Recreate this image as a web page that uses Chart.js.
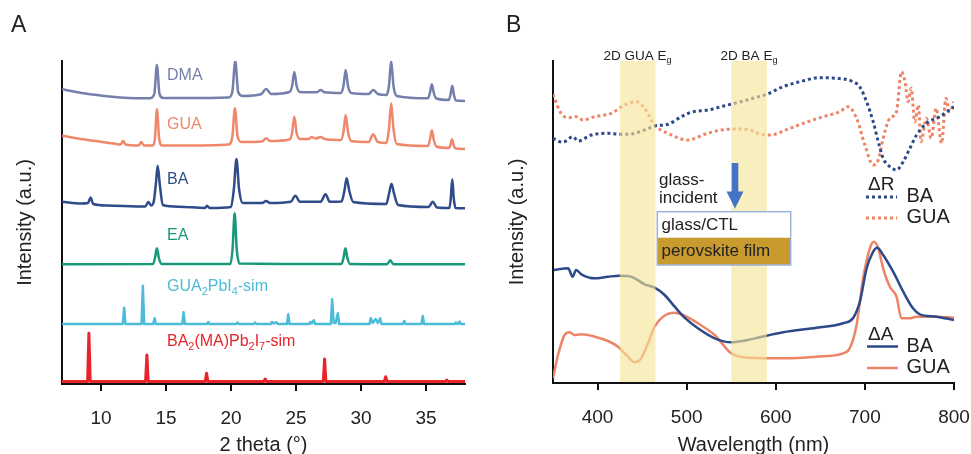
<!DOCTYPE html>
<html><head><meta charset="utf-8">
<script src="https://cdn.jsdelivr.net/npm/chart.js@4.4.1/dist/chart.umd.min.js"></script>
<style>
html,body{margin:0;padding:0;background:#fff;}
#wrap{position:relative;width:971px;height:454px;overflow:hidden;background:#fff}
canvas{position:absolute;top:0}
</style></head>
<body><div id="wrap">
<canvas id="cA" width="485" height="454" style="left:0px"></canvas>
<canvas id="cB" width="486" height="454" style="left:485px"></canvas>
</div>
<script>
const FONT = '"Liberation Sans", Arial, Helvetica, sans-serif';

// ---------- Panel A: XRD (2 theta, intensity a.u. incl. vertical offset) ----------
const xrdTicks = [10, 15, 20, 25, 30, 35];
const xrdLabels = ['DMA', 'GUA', 'BA', 'EA', 'GUA_2PbI_4-sim', 'BA_2(MA)Pb_2I_7-sim'];

const xrdDMA = [[7,294.7],[8.5,291],[10,288.5],[11.8,286.3],[13.8,285.8],[14.1,290],[14.3,319],[14.5,290],[14.8,286],[17,286],[19.8,286.5],[20.1,292],[20.33,323],[20.55,292],[20.9,288],[22.3,289.7],[22.7,295],[23.1,290],[24.5,292],[24.7,298],[24.87,312],[25.05,298],[25.3,292],[26.6,291.7],[26.9,294],[27.2,291.7],[28.45,291],[28.65,298],[28.82,314],[29.0,298],[29.25,291],[30.6,290],[30.93,294],[31.3,290],[31.95,289],[32.15,298],[32.32,323],[32.5,298],[32.75,288],[35.15,285.7],[35.3,291],[35.45,299.7],[35.6,291],[35.8,285.5],[36.75,284],[36.88,289],[37.02,298.3],[37.15,289],[37.3,283.5],[38,283]];

const xrdGUA = [[7,248.3],[9,244],[11,240.5],[11.5,239.5],[11.7,243],[11.9,239.5],[12.9,238.5],[13.1,242],[13.3,238.5],[13.95,238.5],[14.15,246],[14.3,274.7],[14.47,246],[14.7,238.5],[17,238.5],[19.8,239.5],[20.1,247],[20.3,275.7],[20.5,248],[20.8,242],[22.4,242.5],[22.7,245.7],[23.0,243],[24.5,244.5],[24.7,251],[24.87,267.3],[25.05,251],[25.3,245],[26.0,245],[26.2,247],[26.5,245.5],[26.9,247],[27.2,245],[28.45,244],[28.65,252],[28.82,269],[29.0,252],[29.25,243],[30.6,242],[30.93,249.7],[31.3,242],[31.95,241],[32.15,255],[32.32,280.7],[32.5,255],[32.75,240],[35.15,238],[35.3,244],[35.45,253.7],[35.6,244],[35.8,237.5],[36.75,236],[36.88,239],[37.0,244.7],[37.12,239],[37.3,235.5],[38,235]];

const xrdBA = [[7,182.3],[8.5,180.5],[9.0,181],[9.2,186.5],[9.4,180],[10.5,178.5],[13.4,177.5],[13.64,182],[13.85,178.5],[14.05,182],[14.22,200],[14.36,218.3],[14.52,200],[14.75,179],[16,177.3],[18.0,176],[18.15,178.3],[18.35,176],[20.0,177],[20.22,195],[20.42,225],[20.62,195],[20.9,181],[22.4,181],[22.7,183],[23.0,181],[24.6,182.3],[24.95,188.3],[25.3,182.3],[26.9,182.3],[27.27,189.7],[27.6,182.3],[28.5,182.5],[28.72,193],[28.9,205.7],[29.1,193],[29.4,182],[31.95,180],[32.15,190],[32.35,200.3],[32.55,190],[32.85,179],[35.2,177],[35.52,182.3],[35.85,176.5],[36.8,176],[36.9,185],[37.02,204.7],[37.14,185],[37.28,176],[38,175.7]];

const xrdEA = [[7,119.7],[14.0,120],[14.15,126],[14.3,135.7],[14.45,126],[14.65,120],[19.95,120],[20.12,135],[20.28,170.7],[20.44,135],[20.65,120.5],[28.5,120],[28.65,126],[28.8,135.7],[28.95,126],[29.15,120],[32.0,119.8],[32.25,123.7],[32.5,119.8],[38,119.7]];

const xrdGUA2sim = [[7,60],[11.68,60],[11.78,76.3],[11.88,60],[13.12,60],[13.22,98.3],[13.32,60],[14.02,60],[14.12,65.7],[14.22,60],[16.25,60],[16.35,71.7],[16.45,60],[18.15,60],[18.25,62],[18.35,60],[20.4,60],[20.5,61.5],[20.6,60],[21.75,60],[21.85,61.5],[21.95,60],[23.05,60],[23.15,62],[23.3,60.5],[23.5,61.8],[23.6,60],[24.3,60],[24.4,69.7],[24.5,60],[26.0,60],[26.1,62],[26.2,60.5],[26.37,63.7],[26.47,60],[27.68,60],[27.78,84.7],[27.9,61],[28.05,61],[28.22,70.7],[28.32,60],[30.65,60],[30.75,65.7],[30.9,61],[31.13,65],[31.3,61],[31.47,65.7],[31.57,60],[33.23,60],[33.33,63],[33.43,60],[34.65,60],[34.75,68],[34.85,60],[37.2,60],[37.3,61.5],[37.4,60],[37.48,60],[37.58,62.5],[37.68,60],[38,60]];

const xrdBA2sim = [[7,2.5],[8.97,2.5],[9.07,50.7],[9.17,2.5],[13.43,2.5],[13.53,29],[13.63,2.5],[18.02,2.5],[18.12,10.7],[18.22,2.5],[22.53,2.5],[22.63,5],[22.73,2.5],[27.1,2.5],[27.2,25],[27.3,2.5],[31.8,2.5],[31.9,7.3],[32.0,2.5],[36.5,2.5],[36.6,4],[36.7,2.5],[38,2.5]];

// ---------- Panel B: optical (wavelength nm, intensity a.u.) ----------
const wlTicks = [400, 500, 600, 700, 800];
const bandRanges = [[425, 465], [550, 590]];
const bandLabels = ['2D GUA E_g', '2D BA E_g'];

const dR_BA = [[350,244.7],[361,240.7],[372.4,246.3],[378,242],[393,248],[411.7,249.7],[424.8,248.7],[437.8,249],[452.8,253],[464,257],[479,258.7],[494,266.3],[505,270.7],[523.9,273],[542.6,277.3],[561,281.3],[578,285.7],[589.7,288.7],[608,296.3],[627,301.3],[649.5,305.3],[668,304.7],[685,302],[694,296.3],[701.9,281.3],[709.3,261.3],[715,241.3],[720.5,224.7],[728,216.3],[735.5,213],[743,221.3],[750.5,234.7],[758,248],[769,259.7],[784,266.3],[800,276.3]];

const dR_GUA = [[350,288.7],[359,269.7],[367,265.3],[376,266.3],[383.6,263],[396.8,266.3],[415.4,269.7],[430.4,278],[443.4,281.3],[452.8,274.7],[464,258],[479,249.7],[501.4,243],[520,248.7],[538.8,253],[557.5,254],[571,253],[580,249.7],[593.4,248],[615.8,254.7],[638.3,262],[657,267.3],[672,271.3],[681,276.3],[690.7,264.7],[700,238],[709.3,218],[715,223],[720.5,244.7],[728,264.7],[735.5,271.3],[741,311.3],[745,301.3],[748.5,281.3],[752,294.7],[756,261.3],[760,278],[763,241.3],[769,264.7],[774.4,244.7],[780,274.7],[786,239.7],[791,284.7],[795,271.3],[800,281.3]];

const dA_BA = [[351,113],[367,114.7],[372,106.3],[376,113],[381.8,108.7],[396.8,104.7],[411.7,106.3],[424.8,107.3],[437.8,106.3],[452.8,98.7],[464,95.3],[475.3,88],[486.5,76.3],[497.7,65.3],[512.6,54.7],[531.4,44.7],[550,40.7],[568.7,43],[580,45.3],[608.3,50.7],[645.8,55.3],[675.6,59.7],[687,65.3],[694.4,81.3],[702,114.7],[709.3,131.3],[713.8,135.3],[720.5,128],[731.7,111.3],[743,91.3],[754,74.7],[761.6,68.7],[780,66.3],[800,63]];

const dA_GUA = [[350,4.7],[355.6,28],[363,48],[368.7,50.7],[374,48],[381.8,48.7],[396.8,46.3],[411.7,42],[423,36.3],[434,26.3],[441.6,20.7],[449,24.7],[456.6,39.7],[464,56.3],[473.4,66.3],[486.5,70.3],[497.7,67.3],[512.6,59.7],[531.4,48],[550,29.7],[568.7,25.3],[608.3,24.7],[645.8,26.3],[675.6,29.7],[683,34.7],[690.7,58],[698,104.7],[705.6,134.7],[710,141.3],[715,134.7],[720.5,114.7],[728,96.3],[735.5,86.3],[741,64.7],[750.5,64.7],[758,66.3],[780,66.3],[800,65.3]];

// ---------- helpers ----------
const pts = a => a.map(p => ({x: p[0], y: p[1]}));
function parseRich(s) {
  const parts = []; let buf = '';
  for (let i = 0; i < s.length; i++) {
    if (s[i] === '_' && i + 1 < s.length) { if (buf) parts.push([buf, 0]); buf = ''; parts.push([s[i+1], 1]); i++; }
    else buf += s[i];
  }
  if (buf) parts.push([buf, 0]);
  return parts;
}
function drawRich(ctx, s, x, y, size, color, align) {
  const parts = parseRich(s), sub = size * 0.68;
  let w = 0;
  parts.forEach(p => { ctx.font = (p[1] ? sub : size) + 'px ' + FONT; w += ctx.measureText(p[0]).width; });
  let cx = align === 'center' ? x - w / 2 : x;
  ctx.fillStyle = color; ctx.textBaseline = 'middle'; ctx.textAlign = 'left';
  parts.forEach(p => {
    ctx.font = (p[1] ? sub : size) + 'px ' + FONT;
    ctx.fillText(p[0], cx, y + (p[1] ? size * 0.3 : 0));
    cx += ctx.measureText(p[0]).width;
  });
}

const C = {
  dma: '#7480ab', gua: '#ef886a', ba: '#2e4c8a', ea: '#17997a', gsim: '#4cbcd8', bsim: '#e8242a',
  bBA: '#2c4a8a', bGUA: '#ee8466', txt: '#222'
};

function axisCommon(min, max, ticksArr, height, titleText) {
  return {
    type: 'linear', min, max,
    afterBuildTicks: s => { s.ticks = ticksArr.map(v => ({value: v})); },
    afterFit: s => { s.height = height; s.paddingLeft = 0; s.paddingRight = 0; },
    ticks: {autoSkip: false, maxRotation: 0, padding: 16, color: C.txt, font: {family: FONT, size: 19}},
    grid: {display: true, drawOnChartArea: false, drawTicks: true, tickLength: 7, color: '#111', lineWidth: 2},
    border: {display: true, color: '#111', width: 2},
    title: {display: true, text: titleText, color: C.txt, font: {family: FONT, size: 20, lineHeight: 0.9}, padding: {top: 0, bottom: 0}}
  };
}
function yCommon(max, width, padTop) {
  return {
    type: 'linear', min: 0, max,
    afterFit: s => { s.width = width; },
    ticks: {display: false}, grid: {display: false},
    border: {display: true, color: '#111', width: 2},
    title: {display: true, text: 'Intensity (a.u.)', color: C.txt, font: {family: FONT, size: 20}, padding: {top: padTop, bottom: 0}}
  };
}

// ---------- Chart A ----------
const labelsA = {
  id: 'labelsA',
  afterDraw(chart) {
    const ctx = chart.ctx; ctx.save();
    ctx.fillStyle = C.txt; ctx.font = '23px ' + FONT; ctx.textBaseline = 'middle'; ctx.textAlign = 'left';
    ctx.fillText('A', 11, 26);
    const cols = [C.dma, C.gua, C.ba, C.ea, C.gsim, C.bsim];
    const ys = [76, 125, 180, 236, 287, 342];
    xrdLabels.forEach((l, i) => drawRich(ctx, l, 167, ys[i], 16, cols[i], 'left'));
    ctx.restore();
  }
};
function ds(data, color, opts) {
  return Object.assign({data: pts(data), borderColor: color, borderWidth: 2.5, pointRadius: 0, fill: false,
    cubicInterpolationMode: 'monotone', borderJoinStyle: 'round'}, opts || {});
}
new Chart(document.getElementById('cA'), {
  type: 'line',
  data: {datasets: [
    ds(xrdDMA, C.dma), ds(xrdGUA, C.gua), ds(xrdBA, C.ba), ds(xrdEA, C.ea),
    ds(xrdGUA2sim, C.gsim, {cubicInterpolationMode: 'default', tension: 0}),
    ds(xrdBA2sim, C.bsim, {cubicInterpolationMode: 'default', tension: 0, borderWidth: 3})
  ]},
  options: {
    responsive: false, animation: false, devicePixelRatio: 1,
    layout: {padding: {left: 0, right: 20, top: 61, bottom: 0}},
    plugins: {legend: {display: false}, tooltip: {enabled: false}},
    scales: {x: axisCommon(7, 38, xrdTicks, 70, '2 theta (°)'), y: yCommon(323, 62, 13)}
  },
  plugins: [labelsA]
});

// ---------- Chart B ----------
const decorB = {
  id: 'decorB',
  afterDatasetsDraw(chart) {
    const ctx = chart.ctx, x = chart.scales.x, a = chart.chartArea;
    ctx.save();
    ctx.fillStyle = 'rgba(246,228,150,0.62)';
    bandRanges.forEach(r => {
      const x0 = x.getPixelForValue(r[0]), x1 = x.getPixelForValue(r[1]);
      ctx.fillRect(x0, a.top, x1 - x0, a.bottom - a.top - 1);
    });
    ctx.restore();
  },
  afterDraw(chart) {
    const ctx = chart.ctx, x = chart.scales.x;
    ctx.save();
    ctx.fillStyle = C.txt; ctx.font = '23px ' + FONT; ctx.textBaseline = 'middle'; ctx.textAlign = 'left';
    ctx.fillText('B', 21, 26);
    bandRanges.forEach((r, i) => {
      const xc = (x.getPixelForValue(r[0]) + x.getPixelForValue(r[1])) / 2;
      drawRich(ctx, bandLabels[i], xc, 56, 13.5, C.txt, 'center');
    });
    // inset: glass-incident arrow and stack
    ctx.font = '17px ' + FONT; ctx.fillStyle = C.txt; ctx.textBaseline = 'middle';
    ctx.fillText('glass-', 174, 180);
    ctx.fillText('incident', 174, 198);
    ctx.fillStyle = '#4472c4';
    ctx.fillRect(246.7, 163, 6.6, 29);
    ctx.beginPath(); ctx.moveTo(241.5, 191.5); ctx.lineTo(258.5, 191.5); ctx.lineTo(250, 208.5); ctx.closePath(); ctx.fill();
    ctx.fillStyle = '#ffffff'; ctx.fillRect(172.3, 211.7, 133.4, 26);
    ctx.fillStyle = '#c99a2e'; ctx.fillRect(172.3, 237.7, 133.4, 27.3);
    ctx.strokeStyle = '#9bb3dd'; ctx.lineWidth = 1.5; ctx.strokeRect(172.3, 211.7, 133.4, 53.3);
    ctx.fillStyle = C.txt; ctx.font = '17px ' + FONT;
    ctx.fillText('glass/CTL', 176.5, 225);
    ctx.fillText('perovskite film', 176.5, 251);
    // legends
    ctx.font = '19px ' + FONT; ctx.fillText('\u0394R', 383, 185);
    ctx.fillText('\u0394A', 383, 335);
    ctx.font = '20px ' + FONT;
    ctx.lineWidth = 3;
    ctx.setLineDash([3, 3]);
    ctx.strokeStyle = C.bBA; ctx.beginPath(); ctx.moveTo(381, 197); ctx.lineTo(412, 197); ctx.stroke();
    ctx.strokeStyle = C.bGUA; ctx.beginPath(); ctx.moveTo(381, 218); ctx.lineTo(412, 218); ctx.stroke();
    ctx.setLineDash([]);
    ctx.lineWidth = 2.5;
    ctx.strokeStyle = C.bBA; ctx.beginPath(); ctx.moveTo(382, 346.5); ctx.lineTo(413, 346.5); ctx.stroke();
    ctx.strokeStyle = C.bGUA; ctx.beginPath(); ctx.moveTo(382, 368); ctx.lineTo(413, 368); ctx.stroke();
    ctx.fillStyle = C.txt;
    ctx.fillText('BA', 421.5, 196); ctx.fillText('GUA', 421.5, 217.5);
    ctx.fillText('BA', 421.5, 346.5); ctx.fillText('GUA', 421.5, 367.5);
    ctx.restore();
  }
};
new Chart(document.getElementById('cB'), {
  type: 'line',
  data: {datasets: [
    ds(dR_BA, C.bBA, {borderWidth: 3, borderDash: [3, 3], borderCapStyle: 'butt'}),
    ds(dR_GUA, C.bGUA, {borderWidth: 3, borderDash: [3, 3], borderCapStyle: 'butt'}),
    ds(dA_BA, C.bBA),
    ds(dA_GUA, C.bGUA)
  ]},
  options: {
    responsive: false, animation: false, devicePixelRatio: 1,
    layout: {padding: {left: 0, right: 17, top: 61, bottom: 0}},
    plugins: {legend: {display: false}, tooltip: {enabled: false}},
    scales: {x: axisCommon(350, 800, wlTicks, 71, 'Wavelength (nm)'), y: yCommon(322, 68, 20)}
  },
  plugins: [decorB]
});
</script>
</body></html>
